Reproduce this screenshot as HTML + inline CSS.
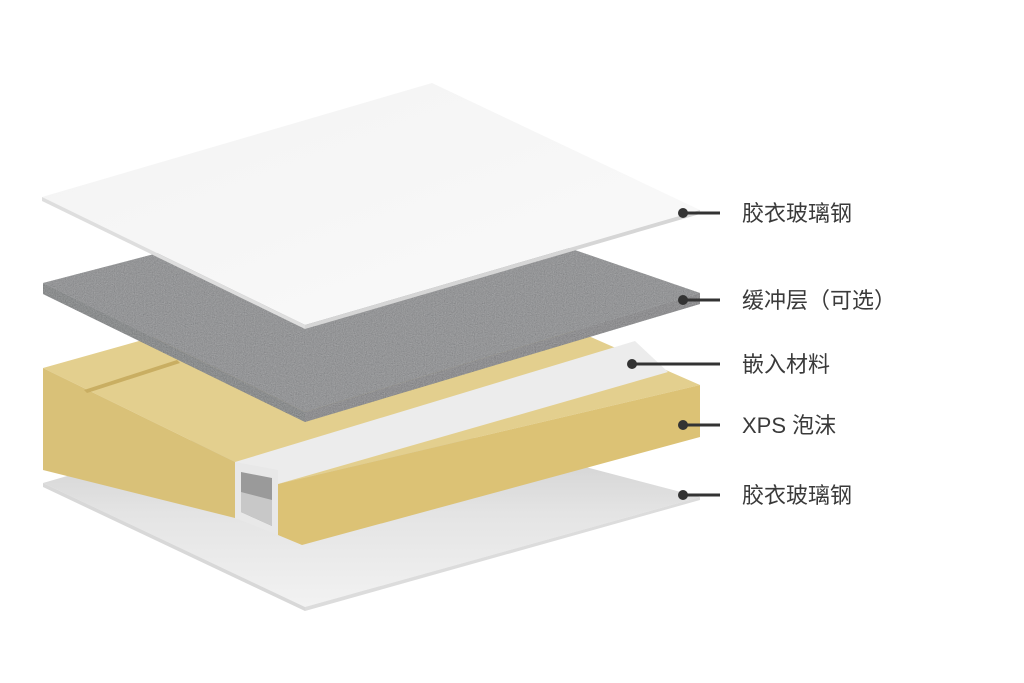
<!DOCTYPE html>
<html><head><meta charset="utf-8"><style>
html,body{margin:0;padding:0;background:#fff;}
svg{display:block;}
.t{font-family:"Liberation Sans","Noto Sans CJK SC",sans-serif;font-size:22px;fill:#3a3a3a;}
</style></head><body>
<svg width="1024" height="683" viewBox="0 0 1024 683" xmlns="http://www.w3.org/2000/svg">
<defs>
<filter id="noise" x="0" y="0" width="100%" height="100%">
<feTurbulence type="fractalNoise" baseFrequency="0.9" numOctaves="2" seed="3" result="n"/>
<feColorMatrix in="n" type="matrix" values="0.33 0.33 0.33 0 0  0.33 0.33 0.33 0 0  0.33 0.33 0.33 0 0  0 0 0 0 0.35" result="g"/>
<feComposite in="g" in2="SourceGraphic" operator="in" result="s"/>
<feMerge><feMergeNode in="SourceGraphic"/><feMergeNode in="s"/></feMerge>
</filter>
<linearGradient id="shad" x1="0" y1="0" x2="0" y2="1">
<stop offset="0" stop-color="#c4c4c4"/><stop offset="0.55" stop-color="#e4e4e4"/><stop offset="1" stop-color="#f2f2f2"/>
</linearGradient>
<linearGradient id="topg" x1="0" y1="0" x2="1" y2="1">
<stop offset="0" stop-color="#f3f3f3"/><stop offset="1" stop-color="#fafafa"/>
</linearGradient>
</defs>

<polygon points="43,483 330,400 700,497 305,607" fill="url(#shad)"/>
<polygon points="43,483 305,607 305,611 43,487" fill="#d8d8d8"/>
<polygon points="305,607 700,497 700,500 305,611" fill="#dcdcdc"/>

<polygon points="43,368 420,262 700,385 278,484 235,462" fill="#e3cf8e"/>
<polygon points="43,368 235,462 235,518 43,470" fill="#d9c178"/>
<polygon points="278,484 700,385 700,437 302,545 278,535" fill="#dcc275"/>
<polygon points="84,390 177,360 180,363 87,393" fill="#c9ae62"/>
<polygon points="235,462 635,341 668,372 278,484" fill="#ececec"/>
<polygon points="235,462 278,470 278,535 235,518" fill="#e8e8e8"/>
<polygon points="241,472 272,478 272,526 241,512" fill="#9a9a9a"/>
<polygon points="241,492 272,500 272,526 241,512" fill="#c8c8c8"/>

<polygon points="43,283 400,190 700,293 305,412" fill="#7a7c7f" filter="url(#noise)"/>
<polygon points="43,283 305,412 305,422 43,294" fill="#686a6d" filter="url(#noise)"/>
<polygon points="305,412 700,293 700,304 305,422" fill="#6e7073" filter="url(#noise)"/>

<polygon points="42,197 432,83 700,210 305,325" fill="url(#topg)"/>
<polygon points="42,197 305,325 305,329 42,201" fill="#dedede"/>
<polygon points="305,325 700,210 700,214 305,329" fill="#d6d6d6"/>

<g stroke="#333" stroke-width="3">
<line x1="683" y1="213" x2="720" y2="213"/>
<line x1="683" y1="300" x2="720" y2="300"/>
<line x1="632" y1="364" x2="720" y2="364"/>
<line x1="683" y1="425" x2="720" y2="425"/>
<line x1="683" y1="495" x2="720" y2="495"/>
</g>
<g fill="#333">
<circle cx="683" cy="213" r="5"/>
<circle cx="683" cy="300" r="5"/>
<circle cx="632" cy="364" r="5"/>
<circle cx="683" cy="425" r="5"/>
<circle cx="683" cy="495" r="5"/>
</g>
<text class="t" x="742" y="221">胶衣玻璃钢</text>
<text class="t" x="742" y="308">缓冲层（可选）</text>
<text class="t" x="742" y="372">嵌入材料</text>
<text class="t" x="742" y="433">XPS 泡沫</text>
<text class="t" x="742" y="503">胶衣玻璃钢</text>
</svg>
</body></html>
